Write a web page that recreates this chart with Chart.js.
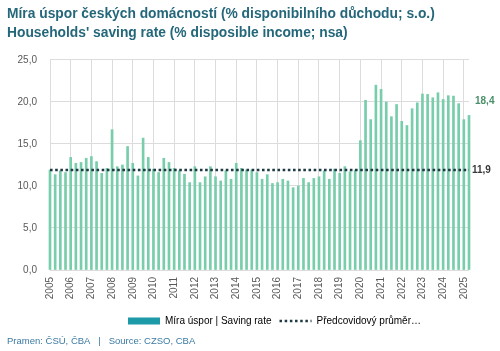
<!DOCTYPE html>
<html>
<head>
<meta charset="utf-8">
<script src="https://cdn.jsdelivr.net/npm/chart.js@4/dist/chart.umd.min.js"></script>
<style>
  body { margin: 0; background: #fff; }
  #wrap { width: 500px; height: 351px; }
</style>
</head>
<body>
<div id="wrap"><canvas id="savingChart"></canvas></div>
<script>
// Data (quarterly, 2005 Q1 - 2025 Q2)
const yearLabels = ['2005', '2006', '2007', '2008', '2009', '2010', '2011', '2012', '2013', '2014', '2015',
  '2016', '2017', '2018', '2019', '2020', '2021', '2022', '2023', '2024', '2025'];
const quarterNames = ['Q1', 'Q2', 'Q3', 'Q4'];
const savingRate = [
  11.9, 11.35, 11.8, 11.6, 13.4, 12.7, 12.8, 13.3,   // 2005-2006
  13.5, 12.9, 11.5, 12.1, 16.7, 12.3, 12.5, 14.7,    // 2007-2008
  12.7, 11.2, 15.7, 13.4, 12.0, 11.6, 13.3, 12.8,    // 2009-2010
  12.1, 11.8, 11.4, 10.4, 12.3, 10.4, 11.1, 12.3,    // 2011-2012
  11.1, 10.6, 11.8, 10.8, 12.7, 12.1, 11.9, 11.9,    // 2013-2014
  11.6, 10.8, 11.35, 10.3, 10.4, 10.8, 10.6, 9.8,    // 2015-2016
  10.0, 10.9, 10.4, 10.9, 11.1, 11.8, 10.8, 12.0,    // 2017-2018
  11.5, 12.3, 11.7, 11.9, 15.4, 20.2, 17.9, 22.0,    // 2019-2020
  21.5, 20.0, 18.25, 19.7, 17.7, 17.2, 19.2, 19.9,   // 2021-2022
  20.95, 20.9, 20.5, 21.1, 20.3, 20.75, 20.7, 19.8,  // 2023-2024
  17.9, 18.4                                         // 2025
];
const precovidAvg = 11.9;
const yTicks = [0, 5, 10, 15, 20, 25];

const categories = [];
yearLabels.forEach(year => {
  quarterNames.forEach(q => categories.push(year + ' ' + q));
});
categories.length = savingRate.length;

const fontFamily = '"Liberation Sans", Arial, sans-serif';
const fmt = v => v.toFixed(1).replace('.', ',');

// Popisky na konci rady
const endLabels = {
  id: 'endLabels',
  afterDatasetsDraw(chart) {
    const { ctx, scales: { x, y } } = chart;
    const last = savingRate.length - 1;
    const xLast = x.getPixelForValue(last);
    ctx.save();
    ctx.font = 'bold 10px ' + fontFamily;
    ctx.textBaseline = 'middle';
    ctx.textAlign = 'left';
    ctx.fillStyle = '#4b8f6b';
    ctx.fillText(fmt(savingRate[last]), xLast + 6, y.getPixelForValue(savingRate[last]) - 14);
    ctx.fillStyle = '#3a3a3a';
    ctx.fillText(fmt(precovidAvg), xLast + 3, y.getPixelForValue(precovidAvg));
    ctx.restore();
  }
};

// Posun legendy trochu doprava
const legendShift = {
  id: 'legendShift',
  afterLayout(chart) {
    if (chart.legend) {
      chart.legend.left += 15;
      chart.legend.right += 15;
    }
  }
};

new Chart(document.getElementById('savingChart'), {
  data: {
    labels: categories,
    datasets: [
      {
        type: 'line',
        label: 'Předcovidový průměr…',
        data: categories.map(() => precovidAvg),
        borderColor: '#1f3a44',
        borderWidth: 2.6,
        borderDash: [2.6, 2.57],
        pointRadius: 0,
        clip: false,
        order: 1
      },
      {
        type: 'bar',
        label: 'Míra úspor | Saving rate',
        data: savingRate,
        backgroundColor: '#78cdaa',
        barThickness: 2,
        clip: false,
        order: 2
      }
    ]
  },
  options: {
    responsive: true,
    maintainAspectRatio: false,
    animation: false,
    layout: { padding: { left: 7, right: 31, top: 0, bottom: 0 } },
    scales: {
      x: {
        offset: false,
        grid: {
          offset: false,
          drawTicks: false,
          color: ctx => (ctx.index % 4 === 0 ? '#dcdcdc' : 'rgba(0,0,0,0)')
        },
        border: { display: false },
        ticks: {
          autoSkip: false,
          minRotation: 90,
          maxRotation: 90,
          padding: 7,
          color: '#595959',
          font: { size: 10, family: fontFamily },
          callback: (v, i) => (i % 4 === 0 ? yearLabels[i / 4] : '')
        },
        afterFit(scale) { scale.height = 38; }
      },
      y: {
        min: 0,
        max: 25,
        afterBuildTicks(scale) { scale.ticks = yTicks.map(v => ({ value: v })); },
        grid: { drawTicks: false, color: '#dcdcdc' },
        border: { display: false },
        ticks: {
          padding: 13,
          color: '#595959',
          font: { size: 10, family: fontFamily },
          callback: v => fmt(v)
        },
        afterFit(scale) { scale.width = 43; }
      }
    },
    plugins: {
      title: {
        display: true,
        text: ['Míra úspor českých domácností (% disponibilního důchodu; s.o.)',
               'Households\' saving rate (% disposible income; nsa)'],
        align: 'start',
        color: '#24677a',
        font: { size: 13.8, weight: 'bold', family: fontFamily, lineHeight: 1.35 },
        padding: { top: 5, bottom: 17.7 }
      },
      legend: {
        position: 'bottom',
        fullSize: false,
        labels: {
          usePointStyle: true,
          pointStyleWidth: 32,
          boxHeight: 7,
          padding: 8,
          color: '#595959',
          font: { size: 10, family: fontFamily },
          generateLabels() {
            return [
              { text: 'Míra úspor | Saving rate', fillStyle: '#1d9aa8', strokeStyle: '#1d9aa8',
                lineWidth: 0, pointStyle: 'rect', datasetIndex: 1 },
              { text: 'Předcovidový průměr…', fillStyle: 'rgba(0,0,0,0)', strokeStyle: '#1f3a44',
                lineWidth: 2.5, lineDash: [2.5, 2.67], pointStyle: 'line', datasetIndex: 0 }
            ];
          }
        }
      },
      subtitle: {
        display: true,
        position: 'bottom',
        align: 'start',
        text: 'Pramen: ČSÚ, ČBA   |   Source: CZSO, CBA',
        color: '#3b7aa3',
        font: { size: 9.5, family: fontFamily },
        padding: { top: 0, bottom: 3.6 }
      },
      tooltip: { enabled: false }
    }
  },
  plugins: [endLabels, legendShift]
});
</script>
</body>
</html>
